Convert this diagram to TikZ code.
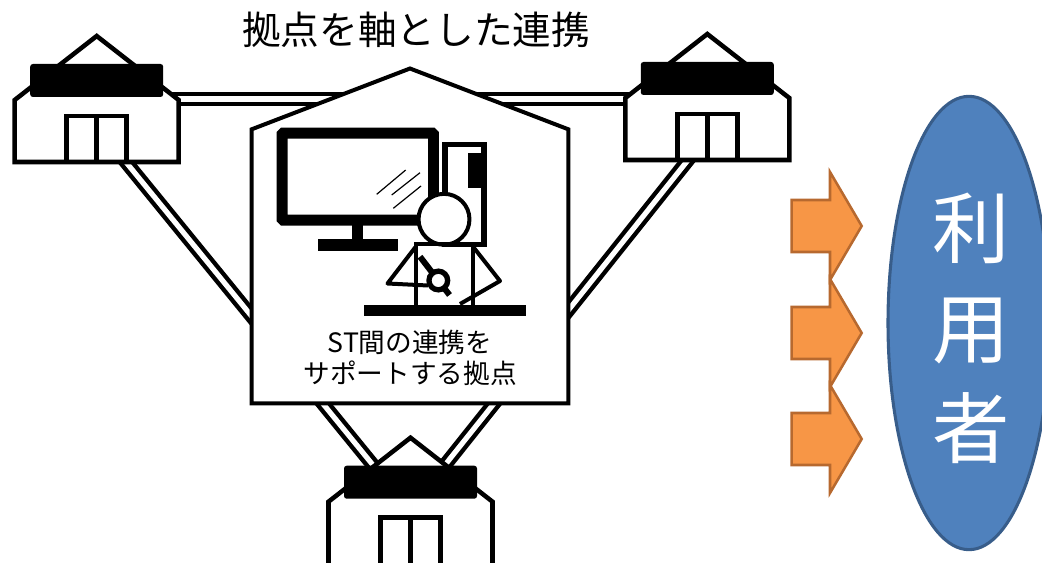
\documentclass[tikz,border=0pt]{standalone}
\usepackage{fontspec}
\newfontfamily\jp{Noto Sans CJK JP}
\usetikzlibrary{shapes.geometric}
\definecolor{userfill}{HTML}{4F81BD}
\definecolor{useredge}{HTML}{385D8A}
\definecolor{arrowfill}{HTML}{F79646}
\definecolor{arrowedge}{HTML}{B7692F}

\begin{document}
\begin{tikzpicture}[x=0.75pt,y=-0.75pt,
  outline/.style={draw=black,line width=3.4pt},
  link/.style={draw=black,line width=3.3pt,double=white,double distance=3.9pt},
  block/.style={fill=arrowfill,draw=arrowedge,line width=1.9pt,line join=miter},
  icon/.style={draw=black,line width=3pt},
  pics/house/.style={code={
    \coordinate (-apex) at (0,0);
    \filldraw[outline,fill=white] (-82,#1) -- (-82,64) -- (0,0) -- (82,64) -- (82,#1) -- cycle;
    \fill[black,rounded corners=2pt] (-66.5,28) rectangle (66.5,61);
    \draw[outline] (-30,80) rectangle (30,#1) (0,80) -- (0,#1);
  }}
]
\useasboundingbox (0,0) rectangle (1042,563);
\clip (0,0) rectangle (1042,563);

% connector ends
\coordinate (tlE) at (170,99);
\coordinate (trW) at (636,99);
\coordinate (tlS) at (121,156);
\coordinate (btW) at (377,470);
\coordinate (trS) at (692,155);
\coordinate (btE) at (441,470);

% double-line links between the sites
\draw[link] (tlE) -- (trW);
\draw[link] (tlS) -- (btW);
\draw[link] (trS) -- (btE);

% the three sites
\pic (tl) at (96.7,36) {house=126};
\pic (tr) at (707.3,34) {house=126};
\pic (bt) at (410.5,437.7) {house=140};

% central hub
\filldraw[fill=white,draw=black,line width=3pt]
  (251.7,403.3) -- (251.7,129.3) -- (410,68.5) -- (568.3,129.3) -- (568.3,403.3) -- cycle;

% monitor
\draw[icon,line width=8.2pt,rounded corners=0.8pt] (282.2,133.2) rectangle (433.5,220.2);
\fill (351.7,224) rectangle (363.3,240);
\fill (317.7,239) rectangle (398.3,250.7);
\draw[line width=0.9pt] (376.7,194.3) -- (405.7,170) (391.7,195) -- (420,172.7) (393.3,208.3) -- (421,186);
% tower
\draw[icon,line width=4.1pt] (445.2,144.5) rectangle (483.8,244.5);
\fill (468,153) rectangle (481.5,188);
% operator
\filldraw[icon,fill=white] (444,219.3) circle[radius=19.1pt];
\draw[icon] (415.5,306) -- (415.5,244) -- (477,244);
\draw[icon] (473.3,244) -- (473.3,306);
\draw[icon,line join=round] (415.5,247) -- (387.5,283.5) -- (428,285.5);
\draw[icon,line join=round] (473.3,247) -- (500,281) -- (460,304);
\draw[line width=4.5pt] (420,256.7) -- (449.5,295);
\filldraw[fill=white,draw=black,line width=4pt] (438.3,280.5) circle[radius=7pt];
% desk
\fill (364.3,305) rectangle (525.7,316);

\node[font=\jp\fontsize{20}{23}\selectfont,align=center] (hubtext) at (410,358) {ST間の連携を\\サポートする拠点};

% title
\node[font=\jp\fontsize{29}{34}\selectfont] (title) at (416,30) {拠点を軸とした連携};

% arrows toward the users
\foreach \cy in {226,333,439}{
  \draw[block] (791.7,{\cy-26}) -- (830,{\cy-26}) -- (830,{\cy-54}) -- (861.7,\cy)
    -- (830,{\cy+54}) -- (830,{\cy+26}) -- (791.7,{\cy+26}) -- cycle;
}

% users
\node[ellipse,fill=userfill,draw=useredge,line width=2.3pt,minimum width=121.5pt,minimum height=340pt,inner sep=0pt] (user) at (969,323) {};
\node[font=\jp\fontsize{58}{75}\selectfont,text=white,align=center] (userlabel) at (971,328) {利\\用\\者};
\end{tikzpicture}
\end{document}
